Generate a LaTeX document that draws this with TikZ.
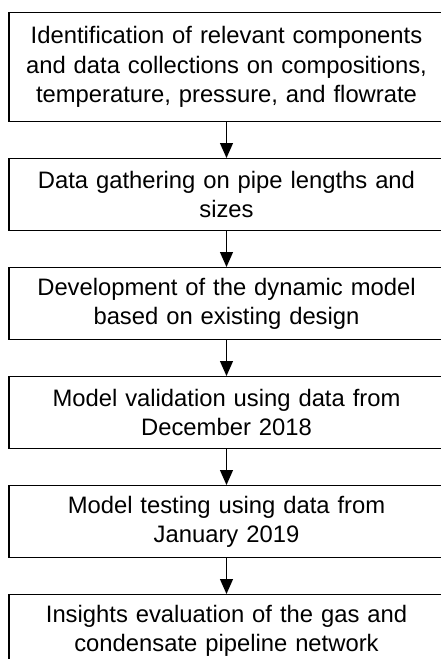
\documentclass[tikz,border=0pt]{standalone}
\usepackage{fontspec}
\setmainfont{Liberation Sans}
\usetikzlibrary{arrows.meta}
\tikzstyle{etape} = [rectangle, draw=black, line width=1.2pt, minimum height=72pt, minimum width=435pt, text width=425pt, align=center, font=\fontsize{23.8}{29.5}\selectfont]

\begin{document}
\begin{tikzpicture}[x=1pt, y=1pt, >={Triangle[length=15pt, width=13pt]}]

        \clip (0,0) rectangle (441,-659);

        \node (E1) [etape, anchor=north, minimum height=109pt] at (226.5,-12) {Identification of relevant components\\ and data collections on compositions,\\ temperature, pressure, and flowrate};
        \node (E2) [etape, anchor=north] at (226.5,-158) {Data gathering on pipe lengths and\\ sizes};
        \node (E3) [etape, anchor=north] at (226.5,-267) {Development of the dynamic model\\ based on existing design};
        \node (E4) [etape, anchor=north] at (226.5,-376) {Model validation using data from\\ December 2018};
        \node (E5) [etape, anchor=north] at (226.5,-485) {Model testing using data from\\ January 2019};
        \node (E6) [etape, anchor=north] at (226.5,-594) {Insights evaluation of the gas and\\ condensate pipeline network};

        \draw[->, line width=1.2pt] (E1) -- (E2);
        \draw[->, line width=1.2pt] (E2) -- (E3);
        \draw[->, line width=1.2pt] (E3) -- (E4);
        \draw[->, line width=1.2pt] (E4) -- (E5);
        \draw[->, line width=1.2pt] (E5) -- (E6);

    \end{tikzpicture}
\end{document}
